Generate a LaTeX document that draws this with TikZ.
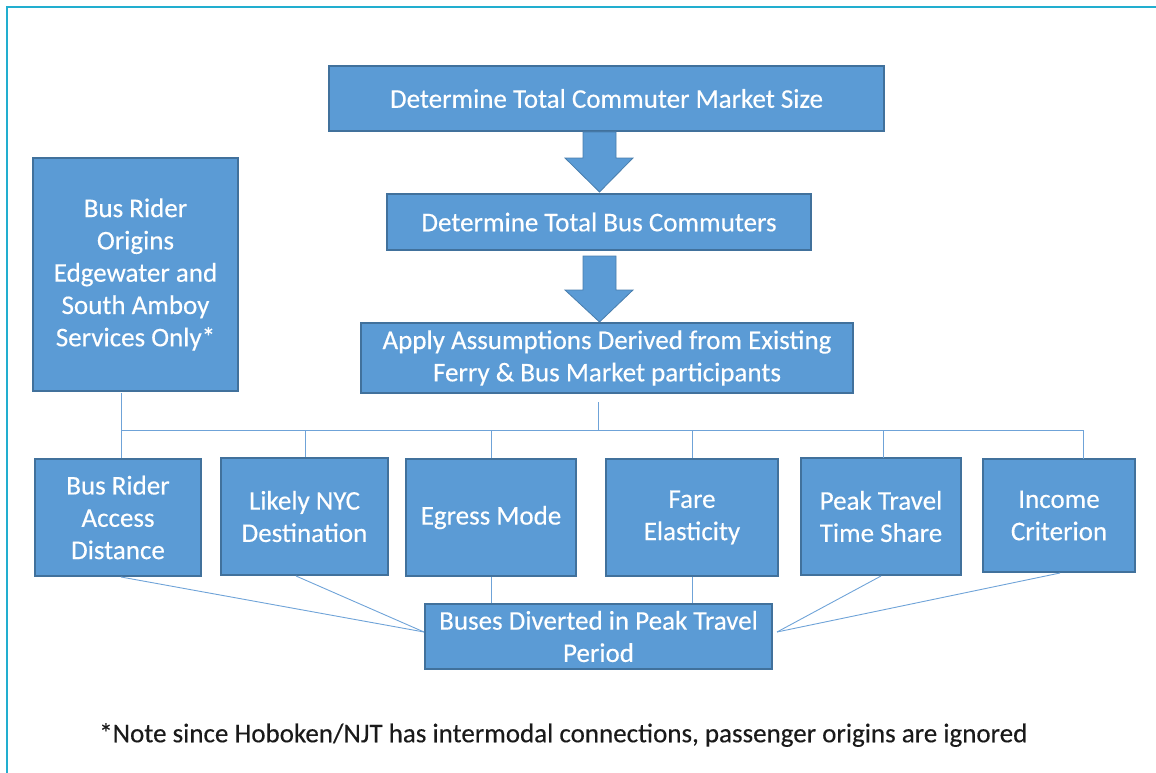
\documentclass[tikz,border=0pt]{standalone}
\usepackage{fontspec}
\setmainfont{Carlito}
\newfontfamily\boxfont{Carlito}[FakeBold=0.3]
\definecolor{boxfill}{HTML}{5B9BD5}
\definecolor{boxline}{HTML}{41719C}
\definecolor{conn}{HTML}{6FA3D8}
\definecolor{frame}{HTML}{22AECF}
\definecolor{notecol}{HTML}{1A1A1A}
\tikzset{
  box/.style={draw=boxline, line width=1.3pt, fill=boxfill, text=white, inner sep=0pt, align=center,
    font=\boxfont\fontsize{27}{32.3}\selectfont},
  conline/.style={draw=conn, line width=0.9pt},
  blockarrow/.style={fill=boxfill, draw=boxline!70!boxfill, line width=0.8pt}
}
\begin{document}
\begin{tikzpicture}[x=1pt,y=-1pt]
\useasboundingbox (0,0) rectangle (1156,773);
\draw[frame, line width=2pt] (7,773) -- (7,7) -- (1156,7);

% boxes
\node[box, minimum width=555, minimum height=65] (top) at (606.5,98.5) {Determine Total Commuter Market Size};
\node[box, minimum width=424, minimum height=56] (bus) at (599,222) {Determine Total Bus Commuters};
\node[box, minimum width=492, minimum height=70] (apply) at (607,358) {Apply Assumptions Derived from Existing\\Ferry \& Bus Market participants};
\node[box, minimum width=205, minimum height=233] (orig) at (135.5,274.5) {Bus Rider\\Origins\\Edgewater and\\South Amboy\\Services Only*};

\node[box, minimum width=166, minimum height=117] (c1) at (118,517.5) {Bus Rider\\Access\\Distance};
\node[box, minimum width=167, minimum height=117] (c2) at (304.5,516.5) {Likely NYC\\Destination};
\node[box, minimum width=170, minimum height=117] (c3) at (491,517.5) {Egress Mode};
\node[box, minimum width=172, minimum height=117] (c4) at (692,517.5) {Fare\\Elasticity};
\node[box, minimum width=160, minimum height=117] (c5) at (881,516.5) {Peak Travel\\Time Share};
\node[box, minimum width=152, minimum height=113] (c6) at (1059,515.5) {Income\\Criterion};

\node[box, minimum width=347, minimum height=65] (bot) at (598.5,636.5) {Buses Diverted in Peak Travel\\Period};

% block arrows
\draw[blockarrow] (583,132) -- (616,132) -- (616,158) -- (633,158) -- (599.5,192) -- (565,158) -- (583,158) -- cycle;
\draw[blockarrow] (583,256) -- (616,256) -- (616,290) -- (633,290) -- (599.5,322) -- (565,290) -- (583,290) -- cycle;

% tree connectors
\coordinate (hl) at (121,430);
\coordinate (hr) at (1083,430);
\draw[conline] (121,393) -- (121,458);
\draw[conline] (598,402) -- (598,430);
\draw[conline] (hl) -- (hr);
\draw[conline] (305,430) -- (c2.north -| 305,0);
\draw[conline] (491,430) -- (c3.north);
\draw[conline] (692,430) -- (c4.north);
\draw[conline] (883,430) -- (883,458);
\draw[conline] (hr) -- (1083,459);

% bottom connectors
\coordinate (bl) at (424,632);
\coordinate (br) at (777,632);
\draw[conline] (121,577) -- (bl);
\draw[conline] (296,576) -- (bl);
\draw[conline] (c3.south) -- (c3.south |- bot.north);
\draw[conline] (c4.south) -- (c4.south |- bot.north);
\draw[conline] (881,576) -- (br);
\draw[conline] (1060,573) -- (br);

\node[anchor=west, text=notecol, inner sep=0pt, font=\boxfont\fontsize{27}{32}\selectfont] (note) at (99,735) {*Note since Hoboken/NJT has intermodal connections, passenger origins are ignored};
\end{tikzpicture}
\end{document}
